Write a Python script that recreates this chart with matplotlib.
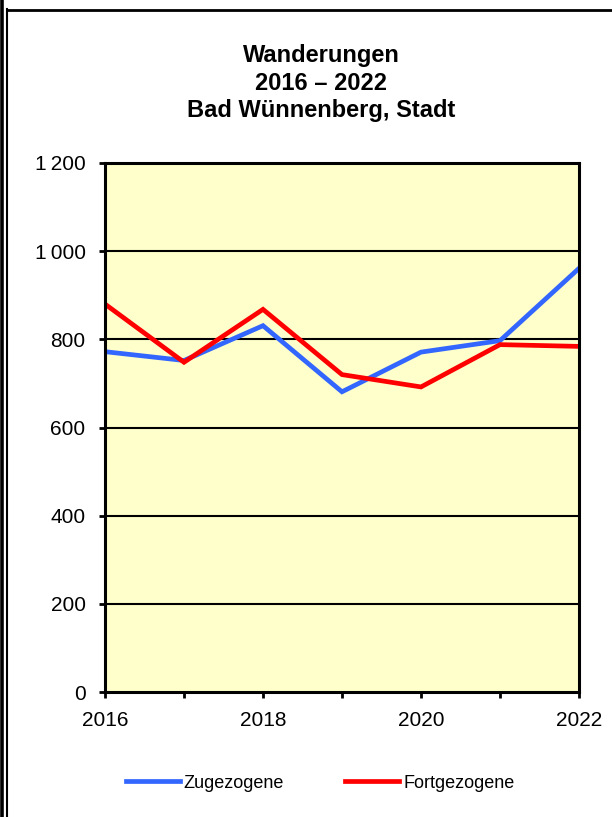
import matplotlib
matplotlib.use("Agg")
import matplotlib.pyplot as plt
from matplotlib.lines import Line2D

plt.rcParams['font.family'] = ['Liberation Sans', 'DejaVu Sans']

years = [2016, 2017, 2018, 2019, 2020, 2021, 2022]
zugezogene = [772, 752, 831, 681, 771, 797, 961]
fortgezogene = [880, 748, 868, 720, 692, 788, 784]

y_ticks = [0, 200, 400, 600, 800, 1000, 1200]
y_tick_labels = ["0", "200", "400", "600", "800", "1\u2009000", "1\u2009200"]
x_label_years = [2016, 2018, 2020, 2022]
x_tick_labels = ["2016", "2018", "2020", "2022"]

title_text = "Wanderungen\n2016 – 2022\nBad Wünnenberg, Stadt"
series_names = ["Zugezogene", "Fortgezogene"]
colors = ["#3366FF", "#FF0000"]

W, H = 612, 817
fig = plt.figure(figsize=(W / 100, H / 100), dpi=100)
fig.patch.set_facecolor("white")

ax = fig.add_axes([105 / W, 1 - 692 / H, 474 / W, 529 / H])
ax.set_facecolor("#FFFFCC")

for yt in y_ticks[1:-1]:
    ax.axhline(yt, color="black", lw=1.5, zorder=1)

ax.plot(years, zugezogene, color=colors[0], lw=3.4, zorder=3,
        solid_joinstyle="miter", label=series_names[0])
ax.plot(years, fortgezogene, color=colors[1], lw=3.4, zorder=4,
        solid_joinstyle="miter", label=series_names[1])

ax.set_xlim(years[0], years[-1])
ax.set_ylim(y_ticks[0], y_ticks[-1])
ax.set_xticks(years)
ax.set_xticklabels([x_tick_labels[x_label_years.index(y)] if y in x_label_years else ""
                    for y in years])
ax.set_yticks(y_ticks)
ax.set_yticklabels(y_tick_labels)

for s in ax.spines.values():
    s.set_linewidth(2.2)
    s.set_color("black")
    s.set_zorder(5)

ax.tick_params(axis="both", direction="out", length=4, width=2, color="black",
               labelsize=15, labelcolor="black")
ax.tick_params(axis="x", pad=10)
ax.tick_params(axis="y", pad=10)

fig.text(321 / W, 1 - 83 / H, title_text, ha="center", va="center",
         fontsize=17, fontweight="bold", linespacing=1.24)

fig.legend(loc="center", bbox_to_anchor=(320 / W, 1 - 783 / H), ncol=2,
           frameon=False, fontsize=13, handlelength=3.0, handletextpad=0.2,
           columnspacing=3.4)

# outer border lines
def fline(x0, y0, x1, y1, lw):
    fig.add_artist(Line2D([x0 / W, x1 / W], [1 - y0 / H, 1 - y1 / H],
                          color="black", lw=lw, transform=fig.transFigure))

fline(2, 0, 2, H, 2.6)
fline(7, 9, 7, H, 1.5)
fline(7, 10, W, 10, 2.0)

fig.savefig("out.png", dpi=100, facecolor="white")
